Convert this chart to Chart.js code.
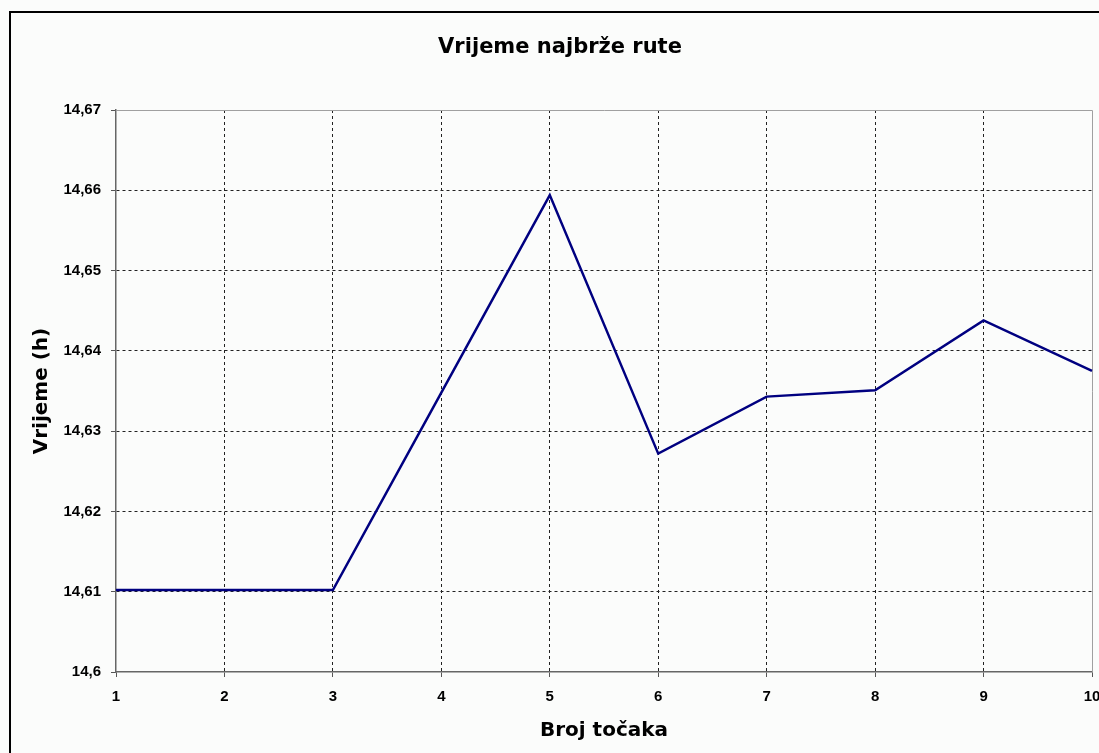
<!DOCTYPE html>
<html>
<head>
<meta charset="utf-8">
<script src="https://cdn.jsdelivr.net/npm/chart.js@4/dist/chart.umd.min.js"></script>
<style>
  html, body { margin: 0; padding: 0; background: #fbfcfb; overflow: hidden; }
  #wrap { position: relative; width: 1099px; height: 753px; overflow: hidden; }
  #frame { position: absolute; left: 9px; top: 11px; width: 1200px; height: 900px; border-left: 2px solid #000; border-top: 2px solid #000; pointer-events: none; }
  canvas { position: absolute; left: 0; top: 0; }
</style>
</head>
<body>
<div id="wrap">
  <canvas id="c" width="1120" height="753"></canvas>
  <div id="frame"></div>
</div>
<script>
const categories = ['1', '2', '3', '4', '5', '6', '7', '8', '9', '10'];
const routeTime = [14.6102, 14.6102, 14.6102, 14.6348, 14.6594, 14.6272, 14.6343, 14.6351, 14.6438, 14.6375];
const yTickValues = [14.6, 14.61, 14.62, 14.63, 14.64, 14.65, 14.66, 14.67];
const yTickLabels = ['14,6', '14,61', '14,62', '14,63', '14,64', '14,65', '14,66', '14,67'];

const titleText = 'Vrijeme najbrže rute';
const xTitleText = 'Broj točaka';
const yTitleText = 'Vrijeme (h)';

const plotFrame = {
  id: 'plotFrame',
  beforeDatasetsDraw(chart) {
    const a = chart.chartArea, ctx = chart.ctx;
    ctx.save();
    ctx.strokeStyle = '#a0a0a0';
    ctx.lineWidth = 1;
    ctx.beginPath();
    ctx.moveTo(a.left, a.top + 0.5);
    ctx.lineTo(a.right + 0.5, a.top + 0.5);
    ctx.lineTo(a.right + 0.5, a.bottom);
    ctx.stroke();
    ctx.restore();
  }
};

const gridColorY = (c) => (c.index === yTickValues.length - 1 || c.index === 0) ? 'rgba(0,0,0,0)' : '#222';
const gridColorX = (c) => (c.index === categories.length - 1 || c.index === 0) ? 'rgba(0,0,0,0)' : '#222';

new Chart(document.getElementById('c'), {
  type: 'line',
  data: {
    labels: categories,
    datasets: [{
      data: routeTime,
      borderColor: '#000080',
      borderWidth: 2.5,
      pointRadius: 0,
      tension: 0,
      fill: false
    }]
  },
  options: {
    responsive: false,
    animation: false,
    devicePixelRatio: 1,
    layout: { padding: { left: 0, right: 0, top: 0, bottom: 0 } },
    plugins: {
      legend: { display: false },
      tooltip: { enabled: false },
      title: {
        display: true,
        text: titleText,
        color: '#000',
        font: { family: 'DejaVu Sans', size: 21, weight: 'bold' },
        padding: { top: 35.4, bottom: 49.4 }
      }
    },
    scales: {
      x: {
        type: 'category',
        offset: false,
        grid: {
          color: gridColorX,
          lineWidth: 1,
          tickLength: 5,
          tickColor: '#555',
          drawTicks: true
        },
        border: { display: true, color: '#666', width: 1.5, dash: [3, 3] },
        ticks: {
          color: '#000',
          font: { family: 'Liberation Sans', size: 15, weight: 'bold' },
          padding: 11,
          maxRotation: 0,
          autoSkip: false
        },
        title: {
          display: true,
          text: xTitleText,
          color: '#000',
          font: { family: 'DejaVu Sans', size: 20, weight: 'bold' },
          padding: { top: 0, bottom: 10 }
        },
        afterFit(scale) { scale.height = 81; scale.paddingLeft = 0; scale.paddingRight = 28; }
      },
      y: {
        type: 'linear',
        min: 14.6,
        max: 14.67,
        afterBuildTicks(scale) { scale.ticks = yTickValues.map(v => ({ value: v })); },
        grid: {
          color: gridColorY,
          lineWidth: 1,
          tickLength: 5,
          tickColor: '#555',
          drawTicks: true
        },
        border: { display: true, color: '#666', width: 1.5, dash: [3, 3] },
        ticks: {
          color: '#000',
          font: { family: 'Liberation Sans', size: 15, weight: 'bold' },
          padding: 10,
          callback: (v, i) => yTickLabels[i]
        },
        title: {
          display: true,
          text: yTitleText,
          color: '#000',
          font: { family: 'DejaVu Sans', size: 20, weight: 'bold' },
          padding: { top: 30, bottom: 0 }
        },
        afterFit(scale) { scale.width = 116; }
      }
    }
  },
  plugins: [plotFrame]
});
</script>
</body>
</html>
